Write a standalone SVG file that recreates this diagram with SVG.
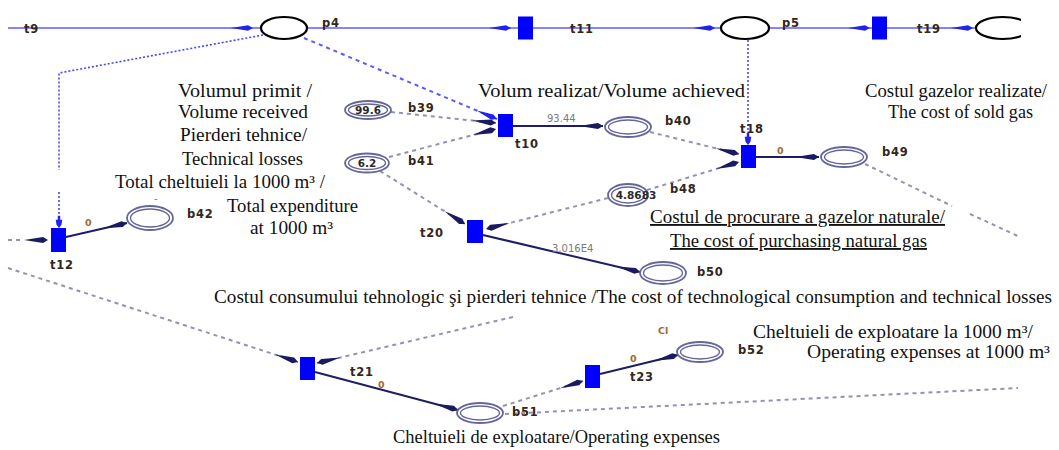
<svg xmlns="http://www.w3.org/2000/svg" width="1059" height="450" viewBox="0 0 1059 450">
  <style>
    .bline { stroke: #5c5cff; stroke-width: 1.6; fill: none; }
    .bdash { stroke: #5a5aff; stroke-width: 2; stroke-dasharray: 4 4; fill: none; }
    .bdot { stroke: #4646ff; stroke-width: 1.6; stroke-dasharray: 2 2; fill: none; }
    .solid { stroke: #1e1e66; stroke-width: 2; fill: none; }
    .gdash { stroke: #9292b4; stroke-width: 2; stroke-dasharray: 4 4; fill: none; }
    .tip { stroke: none; fill: none; }
    .trans { fill: #0000ff; }
    .top-place { fill: #ffffff; stroke: #000000; stroke-width: 2.2; }
    .ring { fill: #ffffff; stroke: #65659a; stroke-width: 1.8; }
    .ring-in { fill: none; stroke: #65659a; stroke-width: 1.4; }
    .lbl { font-family: "DejaVu Sans", "Liberation Sans", sans-serif; font-weight: bold; font-size: 11.5px; letter-spacing: 0.8px; fill: #33261a; }
    .tok { font-family: "DejaVu Sans", "Liberation Sans", sans-serif; font-weight: bold; font-size: 10.5px; fill: #2a2a2a; text-anchor: middle; }
    .wt { font-family: "DejaVu Sans", "Liberation Sans", sans-serif; font-size: 10px; fill: #7a7a7a; }
    .w0 { font-family: "DejaVu Sans", "Liberation Sans", sans-serif; font-weight: bold; font-size: 9.5px; fill: #a06a30; }
    .cap { font-family: "Liberation Serif", "Times New Roman", serif; font-size: 18.5px; fill: #111111; }
    .ul { text-decoration: underline; }
  </style>
  <defs>
    <!-- navy spear-shaped arrowhead, widest at the target end -->
    <marker id="ah" markerUnits="userSpaceOnUse" markerWidth="28" markerHeight="10" viewBox="-25 -5 27 10" refX="0" refY="0" orient="auto" overflow="visible">
      <path d="M-24,0 L-5,-3 L0,0 L-5,3 Z" fill="#1a1a60"/>
    </marker>
    <marker id="ahb" markerUnits="userSpaceOnUse" markerWidth="28" markerHeight="10" viewBox="-25 -5 27 10" refX="0" refY="0" orient="auto" overflow="visible">
      <path d="M-22,0 L-5,-2.8 L0,0 L-5,2.8 Z" fill="#2222ee"/>
    </marker>
    <marker id="ahbt" markerUnits="userSpaceOnUse" markerWidth="14" markerHeight="14" viewBox="-16 -6 17 12" refX="0" refY="0" orient="auto" overflow="visible">
      <path d="M-15,-1.5 L-10,-1.5 L-10,-4 L-4,-3 L0,0 L-4,3 L-10,4 L-10,1.5 L-15,1.5 Z" fill="#2222ee"/>
    </marker>
    <clipPath id="cut">
      <rect x="0" y="0" width="1021" height="450"/>
    </clipPath>
  </defs>

  <rect width="1059" height="450" fill="#ffffff"/>

  <g id="connectors">
    <!-- main blue flow line along the top -->
    <path class="bline" d="M8,28 H978"/>
    <path class="tip" d="M230,28 H253" marker-end="url(#ahb)"/>
    <path class="tip" d="M488,28 H511" marker-end="url(#ahb)"/>
    <path class="tip" d="M692,28 H715" marker-end="url(#ahb)"/>
    <path class="tip" d="M846,28 H870" marker-end="url(#ahb)"/>
    <path class="tip" d="M950,28 H973" marker-end="url(#ahb)"/>

    <!-- blue test arcs -->
    <path class="bdot" d="M263,35 L59,73 V170 M59,192 V214"/>
    <path class="tip" d="M59,210 V228" marker-end="url(#ahbt)"/>
    <path class="bdash" d="M304,38 L497,119" marker-end="url(#ahb)"/>
    <path class="bdot" d="M748,40 V132"/>
    <path class="tip" d="M748,128 V145" marker-end="url(#ahbt)"/>

    <!-- grey dashed input arcs -->
    <path class="gdash" d="M391,112 L496,123" marker-end="url(#ah)"/>
    <path class="gdash" d="M389,157 L496,129" marker-end="url(#ah)"/>
    <path class="gdash" d="M380,171 L465,224" marker-end="url(#ah)"/>
    <path class="gdash" d="M608,198 L486,229" marker-end="url(#ah)"/>
    <path class="gdash" d="M650,132 L739,154" marker-end="url(#ah)"/>
    <path class="gdash" d="M647,190 L739,162" marker-end="url(#ah)"/>
    <path class="gdash" d="M865,164 L952,206 M970,214 L1020,237"/>
    <path class="gdash" d="M8,240 L22,240"/>
    <path class="tip" d="M20,240 L48,240" marker-end="url(#ah)"/>
    <path class="gdash" d="M8,268 L298,362" marker-end="url(#ah)"/>
    <path class="gdash" d="M513,317 L317,363" marker-end="url(#ah)"/>
    <path class="gdash" d="M503,406 L583,381" marker-end="url(#ah)"/>
    <path class="gdash" d="M505,414 L1018,388"/>

    <!-- solid output arcs -->
    <path class="solid" d="M513,126 L603,126" marker-end="url(#ah)"/>
    <path class="solid" d="M756,157 L819,157" marker-end="url(#ah)"/>
    <path class="solid" d="M483,235 L640,272" marker-end="url(#ah)"/>
    <path class="solid" d="M66,237 L127,223" marker-end="url(#ah)"/>
    <path class="solid" d="M315,372 L458,410" marker-end="url(#ah)"/>
    <path class="solid" d="M600,374 L678,355" marker-end="url(#ah)"/>

    <!-- arc weights -->
    <text class="wt" x="547" y="122">93.44</text>
    <text class="wt" x="552" y="252">3,016E4</text>
    <text class="w0" x="777" y="154">0</text>
    <text class="w0" x="85" y="226">0</text>
    <text class="w0" x="378" y="388">0</text>
    <text class="w0" x="630" y="362">0</text>
  </g>

  <!-- top row -->
  <g id="t9"><text class="lbl" x="24" y="33">t9</text></g>
  <g id="p4">
    <ellipse class="top-place" cx="284" cy="28" rx="23" ry="11"/>
    <text class="lbl" x="322" y="27">p4</text>
  </g>
  <g id="t11">
    <rect class="trans" x="518" y="16.5" width="15" height="23"/>
    <text class="lbl" x="570" y="33">t11</text>
  </g>
  <g id="p5">
    <ellipse class="top-place" cx="745" cy="28" rx="24" ry="11"/>
    <text class="lbl" x="782" y="27">p5</text>
  </g>
  <g id="t19">
    <rect class="trans" x="872" y="16.5" width="15" height="23"/>
    <text class="lbl" x="917" y="33">t19</text>
  </g>
  <g id="p-next" clip-path="url(#cut)">
    <ellipse class="top-place" cx="1003" cy="28" rx="27" ry="11"/>
  </g>

  <!-- transitions -->
  <g id="t10">
    <rect class="trans" x="498" y="114" width="15" height="23"/>
    <text class="lbl" x="515" y="148">t10</text>
  </g>
  <g id="t18">
    <rect class="trans" x="741" y="145" width="15" height="23"/>
    <text class="lbl" x="740" y="133">t18</text>
  </g>
  <g id="t20">
    <rect class="trans" x="467" y="220" width="16" height="23"/>
    <text class="lbl" x="420" y="237">t20</text>
  </g>
  <g id="t12">
    <rect class="trans" x="51" y="228" width="15" height="24"/>
    <text class="lbl" x="50" y="269">t12</text>
  </g>
  <g id="t21">
    <rect class="trans" x="300" y="357" width="15" height="23"/>
    <text class="lbl" x="350" y="376">t21</text>
  </g>
  <g id="t23">
    <rect class="trans" x="585" y="365" width="15" height="23"/>
    <text class="lbl" x="630" y="381">t23</text>
  </g>

  <!-- places -->
  <g id="b39">
    <ellipse class="ring" cx="368" cy="110" rx="23" ry="9"/>
    <ellipse class="ring-in" cx="368" cy="110" rx="19.5" ry="6"/>
    <text class="tok" x="368" y="114">99.6</text>
    <text class="lbl" x="408" y="112">b39</text>
  </g>
  <g id="b41">
    <ellipse class="ring" cx="367" cy="163" rx="22" ry="9.5"/>
    <ellipse class="ring-in" cx="367" cy="163" rx="18.5" ry="6.5"/>
    <text class="tok" x="367" y="167">6.2</text>
    <text class="lbl" x="408" y="165">b41</text>
  </g>
  <g id="b40">
    <ellipse class="ring" cx="628" cy="127" rx="23" ry="10"/>
    <ellipse class="ring-in" cx="628" cy="127" rx="19.5" ry="7"/>
    <text class="lbl" x="665" y="125">b40</text>
  </g>
  <g id="b48">
    <ellipse class="ring" cx="628" cy="195" rx="20" ry="11"/>
    <ellipse class="ring-in" cx="628" cy="195" rx="16.5" ry="8"/>
    <text class="tok" x="636" y="199">4.8683</text>
    <text class="lbl" x="670" y="193">b48</text>
  </g>
  <g id="b49">
    <ellipse class="ring" cx="844" cy="157" rx="23" ry="10"/>
    <ellipse class="ring-in" cx="844" cy="157" rx="19.5" ry="7"/>
    <text class="lbl" x="882" y="156">b49</text>
  </g>
  <g id="b42">
    <ellipse class="ring" cx="150" cy="218" rx="23" ry="12"/>
    <ellipse class="ring-in" cx="150" cy="218" rx="19.5" ry="9"/>
    <text class="wt" x="154" y="202">-</text>
    <text class="lbl" x="187" y="218">b42</text>
  </g>
  <g id="b50">
    <ellipse class="ring" cx="663" cy="273" rx="23" ry="11"/>
    <ellipse class="ring-in" cx="663" cy="273" rx="19.5" ry="8"/>
    <text class="lbl" x="697" y="276">b50</text>
  </g>
  <g id="b51">
    <ellipse class="ring" cx="480" cy="413" rx="23" ry="10"/>
    <ellipse class="ring-in" cx="480" cy="413" rx="19.5" ry="7"/>
    <text class="lbl" x="512" y="416">b51</text>
  </g>
  <g id="b52">
    <ellipse class="ring" cx="700" cy="352" rx="23" ry="10"/>
    <ellipse class="ring-in" cx="700" cy="352" rx="19.5" ry="7"/>
    <text class="w0" x="658" y="334">Cl</text>
    <text class="lbl" x="738" y="354">b52</text>
  </g>

  <!-- captions -->
  <g id="captions">
    <text class="cap" x="178" y="97" textLength="134" lengthAdjust="spacingAndGlyphs">Volumul primit /</text>
    <text class="cap" x="178" y="118" textLength="130" lengthAdjust="spacingAndGlyphs">Volume received</text>
    <text class="cap" x="180" y="141" textLength="127" lengthAdjust="spacingAndGlyphs">Pierderi tehnice/</text>
    <text class="cap" x="182" y="165" textLength="121" lengthAdjust="spacingAndGlyphs">Technical losses</text>
    <text class="cap" x="115" y="188" textLength="210" lengthAdjust="spacingAndGlyphs">Total cheltuieli la 1000 m³ /</text>
    <text class="cap" x="227" y="212" textLength="131" lengthAdjust="spacingAndGlyphs">Total expenditure</text>
    <text class="cap" x="250" y="234" textLength="83" lengthAdjust="spacingAndGlyphs">at 1000 m³</text>
    <text class="cap" x="478" y="97" textLength="267" lengthAdjust="spacingAndGlyphs">Volum realizat/Volume achieved</text>
    <text class="cap" x="865" y="97" textLength="182" lengthAdjust="spacingAndGlyphs">Costul gazelor realizate/</text>
    <text class="cap" x="888" y="118" textLength="145" lengthAdjust="spacingAndGlyphs">The cost of sold gas</text>
    <text class="cap ul" x="650" y="223" textLength="295" lengthAdjust="spacingAndGlyphs">Costul de procurare a gazelor naturale/</text>
    <text class="cap ul" x="670" y="247" textLength="257" lengthAdjust="spacingAndGlyphs">The cost of purchasing natural gas</text>
    <text class="cap" x="214" y="303" textLength="838" lengthAdjust="spacingAndGlyphs">Costul consumului tehnologic şi pierderi tehnice /The cost of technological consumption and technical losses</text>
    <text class="cap" x="753" y="338" textLength="280" lengthAdjust="spacingAndGlyphs">Cheltuieli de exploatare la 1000 m³/</text>
    <text class="cap" x="807" y="358" textLength="243" lengthAdjust="spacingAndGlyphs">Operating expenses at 1000 m³</text>
    <text class="cap" x="393" y="443" textLength="327" lengthAdjust="spacingAndGlyphs">Cheltuieli de exploatare/Operating expenses</text>
  </g>
</svg>
